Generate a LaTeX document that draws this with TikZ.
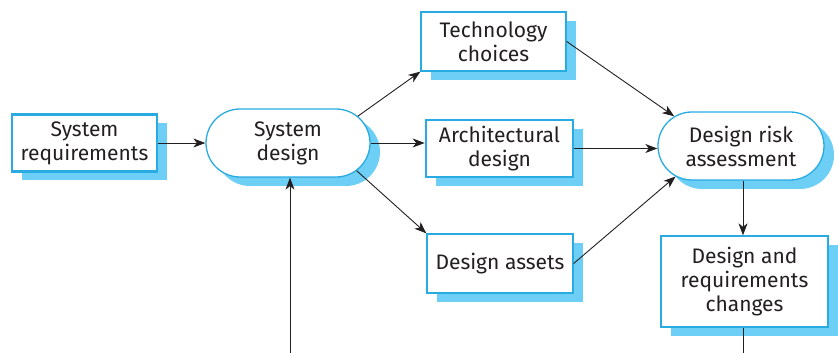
\documentclass[tikz,border=0pt]{standalone}
\usepackage{fontspec}
\setmainfont{Fira Sans}
\usetikzlibrary{arrows.meta, positioning, shapes.misc, shadows}
\definecolor{edgecol}{HTML}{29ABE2}
\definecolor{shadecol}{HTML}{6DCFF6}
\definecolor{textcol}{HTML}{231F20}

\begin{document}
\begin{tikzpicture}[x=1pt, y=1pt,
  box/.style={draw=edgecol, fill=white, line width=1.3pt, align=center, inner sep=2pt,
    font=\fontsize{21}{24}\selectfont, text=textcol,
    drop shadow={shadow xshift=10pt, shadow yshift=-9pt, fill=shadecol, opacity=1}},
  heavy/.style={box, line width=2.6pt},
  pill/.style={box, rounded rectangle},
  conn/.style={-{Stealth[length=12pt, width=9pt, inset=3.5pt]}, line width=0.9pt, textcol},
]
\useasboundingbox (0,0) rectangle (838,353);

% main row
\node[heavy, minimum width=145pt, minimum height=57pt] (sysreq) at (84.5,210) {System\\requirements};
\node[pill, minimum width=168pt, minimum height=68pt] (sysdesign) at (288,210) {System\\design};

% design outputs
\node[box, minimum width=145pt, minimum height=59pt] (tech) at (493.5,311.5) {Technology\\choices};
\node[heavy, minimum width=147pt, minimum height=57pt] (arch) at (499.5,204.5) {Architectural\\design};
\node[box, minimum width=146pt, minimum height=59pt] (assets) at (500,89.5) {Design assets};

% risk assessment and changes
\node[pill, minimum width=170pt, minimum height=68pt] (risk) at (741,207) {Design risk\\assessment};
\node[box, minimum width=167pt, minimum height=91pt] (changes) at (744.5,71.5) {Design and\\requirements\\changes};

% free ends at the bottom
\coordinate (feedin) at (290,0);
\coordinate (feedout) at (743,0);

\draw[conn] (sysreq) -- (sysdesign);
\draw[conn] (feedin) -- (feedin |- sysdesign.south);
\draw[conn] (sysdesign.21) -- (tech.south west);
\draw[conn] (sysdesign.east) -- (sysdesign.east -| arch.west);
\draw[conn] (sysdesign.-22) -- (assets.north west);
\draw[conn] (tech.east) -- (risk.156);
\draw[conn] (arch.east) -- (arch.east -| risk.west);
\draw[conn] (assets.east) -- (risk.205);
\draw[conn] (risk.south -| feedout) -- (changes.north -| feedout);
\draw[line width=0.9pt, textcol] (changes.south -| feedout) -- (feedout);

\end{tikzpicture}
\end{document}
